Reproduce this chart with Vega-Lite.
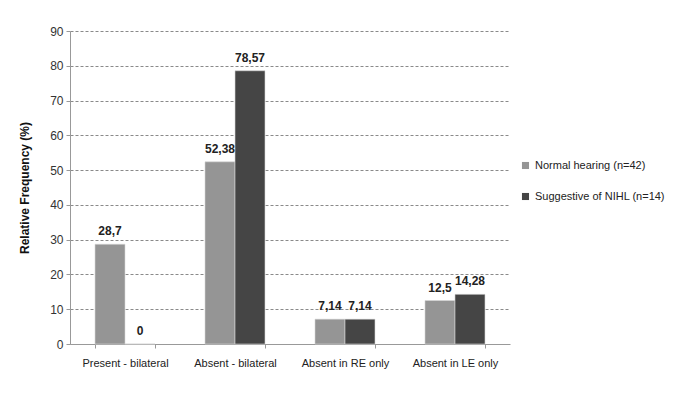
{
  "$schema": "https://vega.github.io/schema/vega-lite/v6.json",
  "autosize": {"type": "none"},
  "padding": {"left": 70, "top": 31, "right": 172, "bottom": 64},
  "width": 440,
  "height": 313,
  "background": "white",
  "config": {
    "view": {"stroke": null},
    "locale": {"number": {"decimal": ",", "thousands": ".", "grouping": [3], "currency": ["", ""]}},
    "font": "Liberation Sans"
  },
  "data": {
    "values": [
      {"category": "Present - bilateral", "group": "Normal hearing (n=42)", "value": 28.7},
      {"category": "Present - bilateral", "group": "Suggestive of NIHL (n=14)", "value": 0},
      {"category": "Absent - bilateral", "group": "Normal hearing (n=42)", "value": 52.38},
      {"category": "Absent - bilateral", "group": "Suggestive of NIHL (n=14)", "value": 78.57},
      {"category": "Absent in RE only", "group": "Normal hearing (n=42)", "value": 7.14},
      {"category": "Absent in RE only", "group": "Suggestive of NIHL (n=14)", "value": 7.14},
      {"category": "Absent in LE only", "group": "Normal hearing (n=42)", "value": 12.5},
      {"category": "Absent in LE only", "group": "Suggestive of NIHL (n=14)", "value": 14.28}
    ]
  },
  "encoding": {
    "x": {
      "field": "category",
      "type": "nominal",
      "sort": null,
      "scale": {"paddingInner": 0.4545, "paddingOuter": 0.2273},
      "axis": {
        "title": null,
        "labelAngle": 0,
        "labelFontSize": 11,
        "labelColor": "#222",
        "labelPadding": 9,
        "tickBand": "extent",
        "tickSize": 4,
        "tickColor": "#999",
        "domainColor": "#999",
        "grid": false
      }
    },
    "xOffset": {"field": "group", "type": "nominal", "sort": null, "scale": {"paddingInner": 0, "paddingOuter": 0}},
    "y": {
      "field": "value",
      "type": "quantitative",
      "scale": {"domain": [0, 90]},
      "axis": {
        "title": "Relative Frequency (%)",
        "titleFontSize": 12,
        "titleFontWeight": "bold",
        "titleColor": "#111",
        "titlePadding": 18,
        "values": [0, 10, 20, 30, 40, 50, 60, 70, 80, 90],
        "format": "d",
        "labelFontSize": 12,
        "labelColor": "#333",
        "labelPadding": 3,
        "tickSize": 4,
        "tickColor": "#999",
        "domainColor": "#999",
        "grid": true,
        "gridDash": [3, 2],
        "gridColor": "#8a8a8a",
        "gridWidth": 1
      }
    }
  },
  "layer": [
    {
      "mark": {"type": "bar", "stroke": "#d8d8d8", "strokeWidth": 0.6},
      "encoding": {
        "color": {
          "field": "group",
          "type": "nominal",
          "sort": null,
          "scale": {"range": ["#959595", "#454545"]},
          "legend": {
            "title": null,
            "orient": "none",
            "legendX": 450,
            "legendY": 129,
            "symbolType": "square",
            "symbolSize": 50,
            "symbolStrokeWidth": 0,
            "labelFontSize": 11,
            "labelColor": "#222",
            "rowPadding": 19,
            "labelOffset": 4
          }
        }
      }
    },
    {
      "mark": {"type": "text", "baseline": "bottom", "dy": -6, "fontWeight": "bold", "fontSize": 12, "font": "Liberation Sans", "color": "#222"},
      "encoding": {
        "text": {"field": "value", "type": "quantitative", "format": "~g"}
      }
    }
  ]
}
